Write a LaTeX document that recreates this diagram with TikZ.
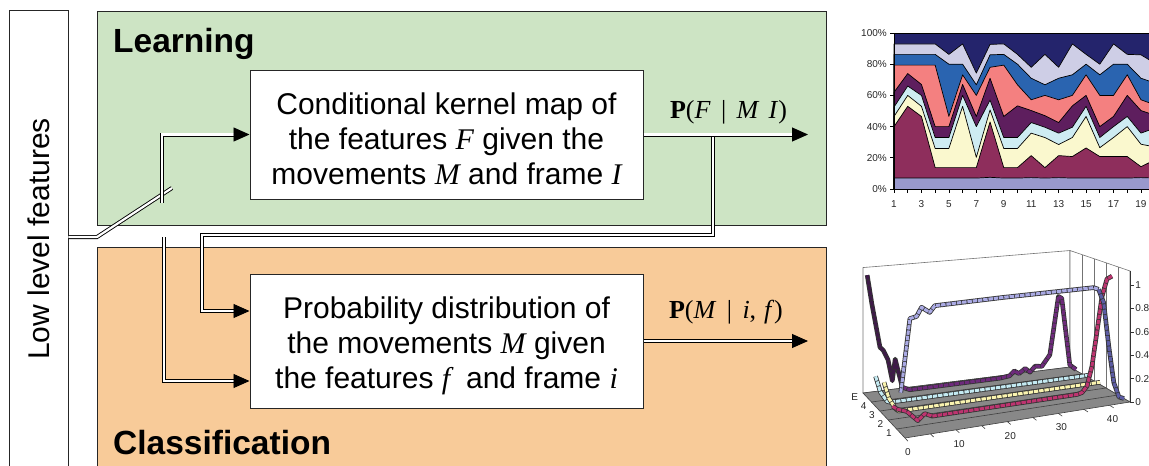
\documentclass[tikz,border=0pt]{standalone}
\usepackage{fontspec}
\setmainfont{Liberation Sans}
\newfontfamily\symfont{Liberation Serif}
\usetikzlibrary{arrows.meta,calc}

\definecolor{learnGreen}{RGB}{205,228,196}
\definecolor{classOrange}{RGB}{248,203,153}
% stacked area chart palette
\definecolor{arLav}{RGB}{153,153,204}
\definecolor{arMaroon}{RGB}{142,46,92}
\definecolor{arCream}{RGB}{250,248,206}
\definecolor{arIce}{RGB}{206,236,242}
\definecolor{arPlum}{RGB}{94,30,94}
\definecolor{arSalmon}{RGB}{244,128,128}
\definecolor{arBlue}{RGB}{42,100,176}
\definecolor{arLilac}{RGB}{206,206,230}
\definecolor{arNavy}{RGB}{36,36,108}
% 3-D ribbon chart palette
\definecolor{rbPurpleDark}{RGB}{62,26,72}
\definecolor{rbPurple}{RGB}{110,42,124}
\definecolor{rbCyan}{RGB}{196,234,242}
\definecolor{rbYellow}{RGB}{250,244,176}
\definecolor{rbMagenta}{RGB}{190,52,112}
\definecolor{rbLav}{RGB}{170,170,228}
\definecolor{rbLavDark}{RGB}{92,92,164}
\definecolor{floorGray}{RGB}{136,136,136}

\newcommand\sym[1]{{\symfont\itshape #1}}

% (ch cs:X,depth,value) -> point of the 3-D ribbon chart (bilinear floor, value up)
\makeatletter
\def\chart@pt#1,#2,#3\relax{%
  \pgfmathsetmacro\chart@u{(#1)/44}%
  \pgfmathsetmacro\chart@w{(#2)/5}%
  \pgfmathsetmacro\chart@a{(1-\chart@u)*(1-\chart@w)}%
  \pgfmathsetmacro\chart@b{\chart@u*(1-\chart@w)}%
  \pgfmathsetmacro\chart@c{(1-\chart@u)*\chart@w}%
  \pgfmathsetmacro\chart@d{\chart@u*\chart@w}%
  \pgfmathsetmacro\chart@h{\chart@a*112+\chart@b*104+\chart@c*125+\chart@d*117}%
  \pgfmathsetmacro\chart@x{\chart@a*863+\chart@b*1070+\chart@c*905+\chart@d*1130}%
  \pgfmathsetmacro\chart@y{\chart@a*393+\chart@b*367+\chart@c*438+\chart@d*402-(#3)*\chart@h}%
  \pgfpoint{\chart@x pt}{-\chart@y pt}}
\tikzdeclarecoordinatesystem{ch}{\chart@pt#1\relax}
\makeatother

% one layer of the stacked area chart, filled from the base line up to its top edge
\newcommand\arealayer[2]{\fill[#1] (0,0) \foreach \v [count=\k from 0] in {#2} { -- (\k,\v) } -- (19,0) -- cycle;}
\newcommand\areaedge[1]{\draw[arealine] (0,0) \foreach \v [count=\k from 0] in {#1} { -- (\k,\v) };}
% one ribbon of the 3-D chart: depth, colour, first X, first value, further X/value pairs
\newcommand\ribbon[5]{%
  \draw[ribbonedge] (ch cs:#3,#1,#4) \foreach \p/\v in {#5} { -- (ch cs:\p,#1,\v) };
  \draw[ribbonface,draw=#2] (ch cs:#3,#1,#4) \foreach \p/\v in {#5} { -- (ch cs:\p,#1,\v) };}

\begin{document}
\begin{tikzpicture}[x=1pt, y=-1pt,
  panel/.style={draw=black!85, line width=0.9pt, anchor=north west, inner sep=0pt, minimum width=729pt},
  procbox/.style={draw=black!85, line width=1pt, fill=white, minimum width=393pt, align=center,
                  font=\fontsize{30}{35}\selectfont, inner sep=2pt},
  heading/.style={font=\fontsize{33.5}{40}\selectfont\bfseries, anchor=base west, inner sep=0pt},
  mathlab/.style={font=\symfont\fontsize{26}{30}\selectfont, anchor=base, inner sep=0pt},
  dblline/.style={draw=black, double=white, double distance=2.2pt, line width=0.9pt, line join=miter},
  headarrow/.style={-{Triangle[length=16pt,width=14pt]}, line width=0.9pt},
  chartfont/.style={font=\fontsize{10}{12}\selectfont, text=black!85, inner sep=1pt},
  arealine/.style={draw=black, line width=0.7pt, line join=round},
  wallline/.style={draw=black!55, line width=0.6pt},
  ribbonedge/.style={draw=black!80, line width=4.6pt, line join=round},
  ribbonface/.style={line width=3pt, line join=round, dash pattern=on 4.4pt off 0.9pt}]
\useasboundingbox (0,0) rectangle (1149,466);

% ---------- panels ----------
\node[panel, fill=learnGreen, minimum height=214pt] (learn) at (97,11) {};
\node[panel, fill=classOrange, minimum height=240pt] (classify) at (97,247) {};
\node[draw=black!85, line width=0.9pt, fill=white, rotate=90, minimum width=458pt, minimum height=59pt,
      font=\fontsize{30}{35}\selectfont, inner sep=0pt] (low) at (38.5,239) {Low level features};

\node[heading] (learnlabel) at (113,52) {Learning};
\node[heading] (classlabel) at (113,454) {Classification};

% ---------- processing boxes ----------
\node[procbox, minimum height=129pt] (kernel) at (446.5,134.5)
  {\rule{0pt}{31pt}Conditional kernel map of\\the features \sym{F} given the\\movements \sym{M} and frame \sym{I}};
\node[procbox, minimum height=134pt] (prob) at (446.5,341)
  {\rule{0pt}{31pt}Probability distribution of\\the movements \sym{M} given\\the features \sym{f}\hspace{0.25em} and frame \sym{i}};

% ---------- switch and connectors ----------
\coordinate (pivot) at (97,237);
\coordinate (swend) at (172,188);
\coordinate (upc) at (162,203);
\coordinate (lowc) at (164,237);
\coordinate (fbtop) at (713,136);
\coordinate (fbleft) at (202,235);
\coordinate (outF) at (808,134.5);
\coordinate (outM) at (808,341);

\draw[dblline] (low.south |- pivot) -- (pivot) -- (swend);

\draw[dblline] (upc) |- ($(kernel.west)+(-14,0)$);
\draw[headarrow] ($(kernel.west)+(-16,0)$) -- (kernel.west);

\draw[dblline] (lowc) |- ($(prob.west)+(-14,40)$);
\draw[headarrow] ($(prob.west)+(-16,40)$) -- ($(prob.west)+(0,40)$);

\draw[dblline] (fbtop) |- (fbleft) |- ($(prob.west)+(-14,-30)$);
\draw[headarrow] ($(prob.west)+(-16,-30)$) -- ($(prob.west)+(0,-30)$);

\draw[dblline] (kernel.east) -- ($(outF)+(-14,0)$);
\draw[headarrow] ($(outF)+(-16,0)$) -- (outF);
\draw[dblline] (prob.east) -- ($(outM)+(-14,0)$);
\draw[headarrow] ($(outM)+(-16,0)$) -- (outM);

\node[mathlab] (pF) at (728.5,118)
  {\textbf{P}(\textit{F}\hspace{0.4em}|\hspace{0.4em}\textit{M}\hspace{0.35em}\textit{I})};
\node[mathlab] (pM) at (726,318)
  {\textbf{P}(\textit{M}\hspace{0.4em}|\hspace{0.4em}\textit{i},\hspace{0.3em}\textit{f})};

% ---------- stacked area chart ----------
\begin{scope}[shift={(894,189)}, x={(13.72pt,0pt)}, y={(0pt,1.56pt)}]
  \fill[arNavy] (0,0) rectangle (19,100);
  \arealayer{arLilac}{93,93,93,93,86.3,93,74.3,92.7,93,86.3,78,86.3,78,93,86.3,80,93,86.3,86,80.7}
  \arealayer{arBlue}{86.3,86.3,86.3,86.3,80,80,66.8,86,86.3,80,71,66.8,71,73.2,80,73.2,80,80,71,68}
  \arealayer{arSalmon}{79.4,79.4,79.4,79.4,46.5,73.2,60,78,79.4,66.8,57.2,60,57.2,60,73.2,60,60,73.2,57.2,54}
  \arealayer{arPlum}{62,74,67,40,40,67,46.5,71,46.5,53.3,50.3,47,42.6,53.3,60,40,46.5,60,50.3,47.3}
  \arealayer{arIce}{52.5,66,60,33,33,60,40,57,33,33,42.6,39.6,35.8,39.6,53,33,40,46.5,35.8,39}
  \arealayer{arCream}{46.5,60,53,26,26,53,20.3,50.7,26,26,35.8,33,28.5,33,46.5,26.5,33,40,28.7,27}
  \arealayer{arMaroon}{40,53,46.5,13.7,13.7,13.7,13.7,43,13.7,13.7,21.4,13.7,21.4,20.8,26.3,20.8,20.8,20.8,14.3,18.6}
  \arealayer{arLav}{7,7,7,7,7,7,7,7.5,7,7,7.3,7,7.3,7,7,7,7,7,7.3,7}
  \areaedge{93,93,93,93,86.3,93,74.3,92.7,93,86.3,78,86.3,78,93,86.3,80,93,86.3,86,80.7}
  \areaedge{86.3,86.3,86.3,86.3,80,80,66.8,86,86.3,80,71,66.8,71,73.2,80,73.2,80,80,71,68}
  \areaedge{79.4,79.4,79.4,79.4,46.5,73.2,60,78,79.4,66.8,57.2,60,57.2,60,73.2,60,60,73.2,57.2,54}
  \areaedge{62,74,67,40,40,67,46.5,71,46.5,53.3,50.3,47,42.6,53.3,60,40,46.5,60,50.3,47.3}
  \areaedge{52.5,66,60,33,33,60,40,57,33,33,42.6,39.6,35.8,39.6,53,33,40,46.5,35.8,39}
  \areaedge{46.5,60,53,26,26,53,20.3,50.7,26,26,35.8,33,28.5,33,46.5,26.5,33,40,28.7,27}
  \areaedge{40,53,46.5,13.7,13.7,13.7,13.7,43,13.7,13.7,21.4,13.7,21.4,20.8,26.3,20.8,20.8,20.8,14.3,18.6}
  \areaedge{7,7,7,7,7,7,7,7.5,7,7,7.3,7,7.3,7,7,7,7,7,7.3,7}
  \draw[arealine] (0,100) -- (19,100);
  % axes
  \draw[black, line width=0.8pt] (0,100) -- (0,0) -- (19.5,0);
  \foreach \t in {0,20,40,60,80,100} {
    \draw[black, line width=0.7pt] (0,\t) -- ++(-4pt,0);
    \node[chartfont, anchor=east] at ($(0,\t)+(-6pt,0)$) {\t\%};
  }
  \foreach \k in {0,...,19} \draw[black, line width=0.7pt] (\k,0) -- ++(0,-4pt);
  \foreach \l in {1,3,...,19} \node[chartfont, anchor=base] at ($({\l-1},0)+(0,-18pt)$) {\l};
\end{scope}

% ---------- 3-D ribbon chart ----------
\filldraw[wallline, fill=white] (ch cs:0,0,0) -- (ch cs:0,0,1.12) -- (ch cs:44,0,1.12) -- (ch cs:44,0,0) -- cycle;
\filldraw[wallline, fill=white] (ch cs:44,0,0) -- (ch cs:44,0,1.12) -- (ch cs:44,5,1.12) -- (ch cs:44,5,0) -- cycle;
\foreach \d in {1,2,3,4} \draw[wallline] (ch cs:44,\d,0) -- (ch cs:44,\d,1.12);
\filldraw[fill=floorGray, draw=black!75, line width=0.6pt]
  (ch cs:0,0,0) -- (ch cs:44,0,0) -- (ch cs:44,5,0) -- (ch cs:0,5,0) -- cycle;
\foreach \d in {1,2,3,4} \draw[black!75, line width=0.6pt] (ch cs:0,\d,0) -- (ch cs:44,\d,0);

\ribbon{0.5}{rbPurpleDark}{0}{1.08}{1/0.82, 2.7/0.43, 3.4/0.40, 4.4/0.31, 5.3/0.12, 5.9/0.31, 7.4/0.05}
\ribbon{0.5}{rbPurple}{7.4}{0.05}{9/0.02,
  28/0.02, 30/0.03, 31/0.07, 32/0.04, 33.3/0.08, 34.3/0.04, 35.4/0.09, 36.8/0.08, 38.5/0.18,
  40.3/0.72, 41/0.70, 42.7/0.06, 44/0.01}
\ribbon{1.5}{rbCyan}{0}{0.26}{1/0.12, 2.4/0.03, 3/0.02, 44/0.02}
\ribbon{2.5}{rbYellow}{0}{0.28}{1/0.14, 2.4/0.04, 3/0.02, 44/0.02}
\ribbon{3.5}{rbMagenta}{0}{0.15}{1/0.12, 2.9/0.09, 5.1/0.0, 6.5/0.05, 8/0.02, 37/0.02, 38/0.03, 39/0.08,
  40/0.25, 41/0.55, 42/0.85, 43/1.0, 44/1.02}
\ribbon{4.5}{rbLav}{0}{0.33}{1.8/0.92, 3.1/0.93, 4.1/1.0, 5.7/0.95, 6.7/1.0, 20/1.0, 38/0.99, 39/0.97}
\ribbon{4.5}{rbLavDark}{39}{0.97}{40/0.85, 41/0.47, 42/0.15, 43/0.02, 44/0.0}

% value axis
\draw[black!80, line width=0.7pt] (ch cs:44,5,0) -- (ch cs:44,5,1.12);
\foreach \v in {0,0.2,0.4,0.6,0.8,1} {
  \draw[black!80, line width=0.6pt] (ch cs:44,5,\v) -- ++(4,0) node[chartfont, anchor=west] {\v};
}
% category axis
\foreach \x in {0,5,...,40} \draw[black!75, line width=0.6pt] (ch cs:\x,5,0) -- (ch cs:\x,5.35,0);
\foreach \x in {0,10,20,30,40} \node[chartfont] at ($(ch cs:\x,5,0)+(3,14)$) {\x};
% series axis
\foreach \d/\s in {0.5/E,1.5/4,2.5/3,3.5/2,4.5/1} \node[chartfont, anchor=east] at ($(ch cs:0,\d,0)+(-8,0)$) {\s};
\end{tikzpicture}
\end{document}
